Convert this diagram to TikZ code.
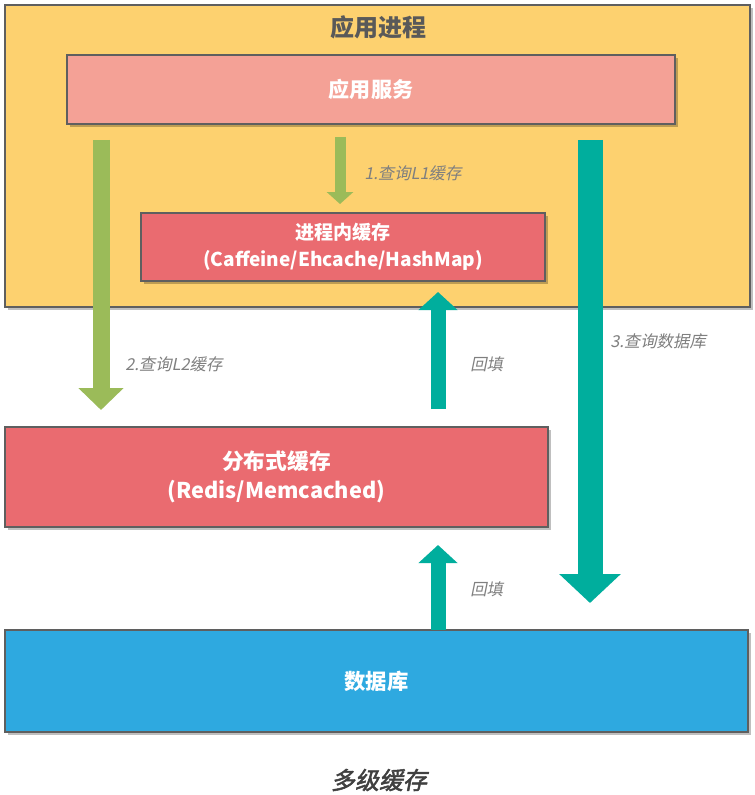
\documentclass[tikz,border=0pt]{standalone}
\usepackage{fontspec}
\setmainfont{Noto Sans CJK SC}
\newfontfamily\labfont[FakeSlant=0.2]{Noto Sans CJK SC}
\newfontfamily\capfont[FakeSlant=0.2,FakeBold=2]{Noto Sans CJK SC}
\usetikzlibrary{shadows,arrows.meta}
\definecolor{procyellow}{HTML}{FDD16F}
\definecolor{salmon}{HTML}{F4A196}
\definecolor{cachered}{HTML}{EA6B70}
\definecolor{dbblue}{HTML}{2EA9E0}
\definecolor{arrgreen}{HTML}{9BBB59}
\definecolor{arrteal}{HTML}{00AE9D}
\definecolor{edgegray}{HTML}{5F5F5F}
\definecolor{titlegray}{HTML}{595959}
\definecolor{labgray}{HTML}{7F7F7F}
\tikzset{
  boxstyle/.style={draw=edgegray, line width=0.9pt, inner sep=0pt, align=center,
    text=white, font=\bfseries,
    drop shadow={shadow xshift=2pt, shadow yshift=-2pt, fill=black, opacity=0.25}},
  labstyle/.style={text=labgray, font=\labfont\fontsize{12.3pt}{14pt}\selectfont, anchor=west, inner sep=0pt},
  greenbig/.style={draw=arrgreen, line width=17*0.75pt, -{Triangle[width=44*0.75pt,length=22*0.75pt]}},
  greensmall/.style={draw=arrgreen, line width=11*0.75pt, -{Triangle[width=26*0.75pt,length=12*0.75pt]}},
  tealbig/.style={draw=arrteal, line width=25*0.75pt, -{Triangle[width=60*0.75pt,length=29*0.75pt]}},
  tealsmall/.style={draw=arrteal, line width=15*0.75pt, -{Triangle[width=38*0.75pt,length=18*0.75pt]}},
}
\begin{document}
\begin{tikzpicture}[x=0.75pt,y=-0.75pt]
\useasboundingbox (0,0) rectangle (755,795);
\fill[white] (0,0) rectangle (755,795);
% process container
\node[boxstyle, fill=procyellow, minimum width=745*0.75pt, minimum height=302*0.75pt] (proc) at (377.5,156) {};
\node[text=titlegray, font=\bfseries\fontsize{18pt}{20pt}\selectfont, inner sep=0pt] (proctitle) at (378,27) {应用进程};
% boxes
\node[boxstyle, fill=salmon, minimum width=608*0.75pt, minimum height=69*0.75pt,
  font=\bfseries\fontsize{15.8pt}{18pt}\selectfont] (app) at (371,89.5) {应用服务};
\node[boxstyle, fill=cachered, minimum width=404*0.75pt, minimum height=68*0.75pt,
  font=\bfseries\fontsize{14.3pt}{20pt}\selectfont] (l1) at (343,247) {进程内缓存\\(Caffeine/Ehcache/HashMap)};
\node[boxstyle, fill=cachered, minimum width=543*0.75pt, minimum height=100*0.75pt,
  font=\bfseries\fontsize{16.3pt}{22pt}\selectfont] (l2) at (276.5,477) {分布式缓存\\(Redis/Memcached)};
\node[boxstyle, fill=dbblue, minimum width=743*0.75pt, minimum height=102*0.75pt,
  font=\bfseries\fontsize{16pt}{18pt}\selectfont] (db) at (376.5,681) {数据库};
% arrow end points
\coordinate (g1s) at (340,137);
\coordinate (g1e) at (340,204);
\coordinate (g2s) at (101,140);
\coordinate (g2e) at (101,410);
\coordinate (t3s) at (590,140);
\coordinate (t3e) at (590,603);
\coordinate (r1s) at (438,409);
\coordinate (r1e) at (438,292);
\coordinate (r2s) at (438,630);
\coordinate (r2e) at (438,545);
% arrows
\draw[greensmall] (g1s) -- (g1e);
\draw[greenbig] (g2s) -- (g2e);
\draw[tealbig] (t3s) -- (t3e);
\draw[tealsmall] (r1s) -- (r1e);
\draw[tealsmall] (r2s) -- (r2e);
% labels
\node[labstyle] (lab1) at (364,173) {1.查询L1缓存};
\node[labstyle] (lab2) at (125,364) {2.查询L2缓存};
\node[labstyle] (lab3) at (610,341) {3.查询数据库};
\node[labstyle] (lab4) at (470,364) {回填};
\node[labstyle] (lab5) at (470,589) {回填};
% caption
\node[text=black!75, font=\capfont\fontsize{18pt}{20pt}\selectfont, inner sep=0pt] (cap) at (379,780) {多级缓存};
\end{tikzpicture}
\end{document}
